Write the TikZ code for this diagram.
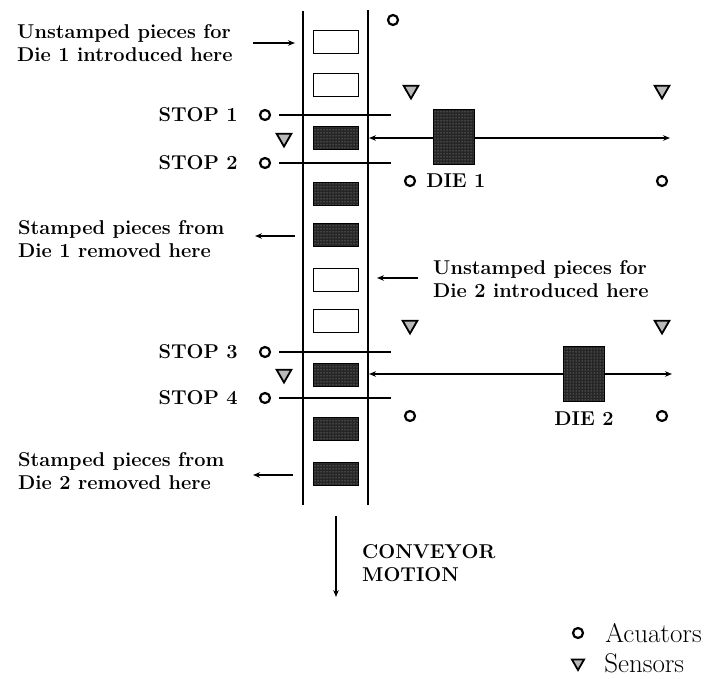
\documentclass[tikz,border=0pt]{standalone}
\usepackage{fontspec}
\usetikzlibrary{positioning,arrows.meta,shapes.geometric,patterns}
\tikzset{
  piece/.style={draw,line width=1.2pt,minimum width=45pt,minimum height=23pt,inner sep=0pt},
  stamped/.style={piece,preaction={fill=black!85},pattern=dots,pattern color=gray!60},
  blank/.style={piece,fill=white},
  act/.style={circle,draw,line width=2.2pt,minimum size=10pt,inner sep=0pt},
  sens/.style={regular polygon,regular polygon sides=3,shape border rotate=180,draw,line width=1.8pt,fill=gray!55,minimum size=17pt,inner sep=0pt},
  lbl/.style={inner sep=0pt,font=\fontsize{20}{23}\selectfont\bfseries,align=left},
  conn/.style={line width=1.1pt},
  rail/.style={line width=1.8pt}
}
\begin{document}
\begin{tikzpicture}[x=1pt,y=-1pt,>={Stealth[length=7pt,width=5.5pt]}]
\useasboundingbox (0,0) rectangle (720,679);
\draw[rail] (303,11) -- (303,505) (368,10) -- (368,505);
\foreach \y/\t [count=\i] in {42/blank,85/blank,138/stamped,194/stamped,235/stamped,280/blank,321/blank,375/stamped,429/stamped,474/stamped}
  \node[\t] (p\i) at (336,\y) {};
\node[act] (top) at (393,20) {};
\node[act] (st1) at (265,115) {}; \node[act] (st2) at (265,163) {};
\node[act] (st3) at (265,352) {}; \node[act] (st4) at (265,398) {};
\foreach \s/\n in {st1/STOP 1,st2/STOP 2,st3/STOP 3,st4/STOP 4}{
  \node[lbl,left=21pt of \s] (\s l) {\n};
  \draw[rail] ([xshift=8pt]\s.east) -- ++(112,0);
}
\node[sens] (se1) at (284,138) {}; \node[sens] (se2) at (284,374) {};
\node[sens] (sd1a) at (411,90) {}; \node[sens] (sd1b) at (662,90) {};
\node[sens] (sd2a) at (410,325) {}; \node[sens] (sd2b) at (662,325) {};
\node[act] (ad1a) at (410,181) {}; \node[act] (ad1b) at (662,181) {};
\node[act] (ad2a) at (410,416) {}; \node[act] (ad2b) at (662,416) {};
\coordinate (r1) at (369,138); \coordinate (e1) at (670,138);
\coordinate (r2) at (369,374); \coordinate (e2) at (672,374);
\draw[conn,<->] (r1) -- (e1); \draw[conn,<->] (r2) -- (e2);
\node[stamped,minimum width=41pt,minimum height=55pt] (die1) at (454,137) {};
\node[stamped,minimum width=41pt,minimum height=55pt] (die2) at (584,374) {};
\node[lbl,right=10pt of ad1a] (die1l) {DIE 1};
\node[lbl,below=9pt of die2] (die2l) {DIE 2};
\node[lbl,anchor=west] (in1) at (17,43) {Unstamped pieces for\\Die 1 introduced here};
\node[lbl,anchor=west] (out1) at (18,239) {Stamped pieces from\\Die 1 removed here};
\node[lbl,anchor=west] (in2) at (433,279) {Unstamped pieces for\\Die 2 introduced here};
\node[lbl,anchor=west] (out2) at (18,471) {Stamped pieces from\\Die 2 removed here};
\coordinate (in1a) at (253,43); \coordinate (in1b) at (295,43);
\coordinate (out1a) at (295,236); \coordinate (out1b) at (255,236);
\coordinate (in2a) at (418,278); \coordinate (in2b) at (377,278);
\coordinate (out2a) at (293,475); \coordinate (out2b) at (253,475);
\draw[conn,->] (in1a) -- (in1b); \draw[conn,->] (out1a) -- (out1b);
\draw[conn,->] (in2a) -- (in2b); \draw[conn,->] (out2a) -- (out2b);
\coordinate (m1) at (336,516); \coordinate (m2) at (336,597);
\draw[conn,->] (m1) -- (m2);
\node[lbl,anchor=west] (mot) at (362,563) {CONVEYOR\\MOTION};
\node[act] (la) at (578,633) {}; \node[sens,minimum size=14pt] (ls) at (578,663) {};
\node[lbl,font=\fontsize{27}{30}\selectfont,right=21pt of la] (lat) {Acuators};
\node[lbl,font=\fontsize{27}{30}\selectfont,right=21pt of ls] (lst) {Sensors};
\end{tikzpicture}
\end{document}
